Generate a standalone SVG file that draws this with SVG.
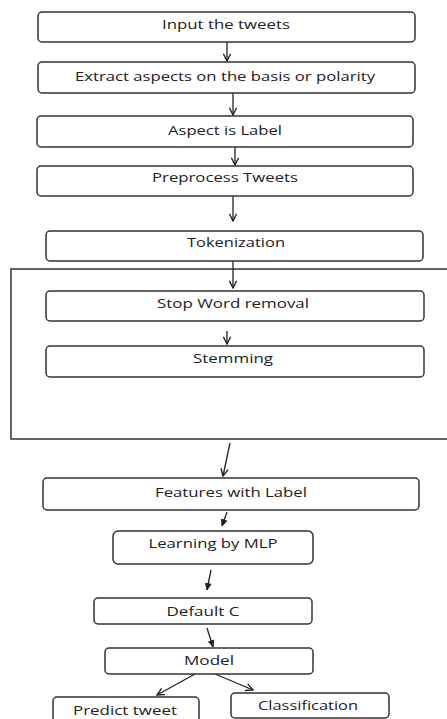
<svg xmlns="http://www.w3.org/2000/svg" width="447" height="719" viewBox="0 0 447 719">
<style>
.box{fill:#fff;stroke:#333;stroke-width:1.5}
.frame{fill:none;stroke:#333;stroke-width:1.5}
.lbl{font-family:"Open Sans","DejaVu Sans",sans-serif;font-size:12.5px;fill:#222;text-anchor:middle}
.ar{fill:none;stroke:#222;stroke-width:1.3}
.open{marker-end:url(#mo)}
.fill{marker-end:url(#mf)}
</style>
<defs>
<marker id="mo" viewBox="0 0 10 10" refX="9" refY="5" markerWidth="9" markerHeight="9" markerUnits="userSpaceOnUse" orient="auto">
<path d="M1,1 L9,5 L1,9" fill="none" stroke="#222" stroke-width="1.5"/>
</marker>
<marker id="mf" viewBox="0 0 10 10" refX="9" refY="5" markerWidth="8" markerHeight="8" markerUnits="userSpaceOnUse" orient="auto">
<path d="M1,1.5 L9,5 L1,8.5 Z" fill="#222" stroke="#222" stroke-width="1"/>
</marker>
</defs>
<rect class="frame" x="11" y="269" width="445" height="170"/>
<g id="connectors">
<line class="ar open" x1="227" y1="42" x2="227" y2="61"/>
<line class="ar open" x1="233" y1="93" x2="233" y2="115"/>
<line class="ar open" x1="235" y1="147" x2="235" y2="165"/>
<line class="ar open" x1="233" y1="196" x2="233" y2="221"/>
<line class="ar open" x1="233" y1="261" x2="233" y2="288"/>
<line class="ar open" x1="227" y1="331" x2="227" y2="344"/>
<line class="ar open" x1="230" y1="443" x2="223" y2="476"/>
<line class="ar fill" x1="227" y1="512" x2="222" y2="526"/>
<line class="ar fill" x1="211" y1="570" x2="207" y2="590"/>
<line class="ar fill" x1="207" y1="628" x2="213" y2="647"/>
<line class="ar open" x1="195" y1="674" x2="157" y2="695"/>
<line class="ar open" x1="215" y1="674" x2="253" y2="690"/>
</g>
<g id="n1"><rect class="box" x="38" y="12" width="377" height="30" rx="4"/><text class="lbl" x="226" y="28.5" textLength="128" lengthAdjust="spacingAndGlyphs">Input the tweets</text></g>
<g id="n2"><rect class="box" x="38" y="62" width="377" height="31" rx="4"/><text class="lbl" x="225" y="80.5" textLength="300" lengthAdjust="spacingAndGlyphs">Extract aspects on the basis or polarity</text></g>
<g id="n3"><rect class="box" x="37" y="116" width="376" height="31" rx="4"/><text class="lbl" x="225" y="134.5" textLength="114" lengthAdjust="spacingAndGlyphs">Aspect is Label</text></g>
<g id="n4"><rect class="box" x="37" y="166" width="376" height="30" rx="4"/><text class="lbl" x="225" y="181.5" textLength="146" lengthAdjust="spacingAndGlyphs">Preprocess Tweets</text></g>
<g id="n5"><rect class="box" x="46" y="231" width="377" height="30" rx="4"/><text class="lbl" x="236" y="246.5" textLength="98" lengthAdjust="spacingAndGlyphs">Tokenization</text></g>
<g id="n6"><rect class="box" x="46" y="291" width="378" height="30" rx="4"/><text class="lbl" x="233" y="307.5" textLength="152" lengthAdjust="spacingAndGlyphs">Stop Word removal</text></g>
<g id="n7"><rect class="box" x="46" y="346" width="378" height="31" rx="4"/><text class="lbl" x="233" y="362.5" textLength="80" lengthAdjust="spacingAndGlyphs">Stemming</text></g>
<g id="n8"><rect class="box" x="43" y="478" width="376" height="32" rx="4"/><text class="lbl" x="231" y="496.5" textLength="152" lengthAdjust="spacingAndGlyphs">Features with Label</text></g>
<g id="n9"><rect class="box" x="113" y="531" width="200" height="33" rx="5"/><text class="lbl" x="213" y="547.5" textLength="129" lengthAdjust="spacingAndGlyphs">Learning by MLP</text></g>
<g id="n10"><rect class="box" x="94" y="598" width="218" height="26" rx="4"/><text class="lbl" x="203" y="615.5" textLength="73" lengthAdjust="spacingAndGlyphs">Default C</text></g>
<g id="n11"><rect class="box" x="105" y="648" width="208" height="26" rx="4"/><text class="lbl" x="209" y="664.5" textLength="50" lengthAdjust="spacingAndGlyphs">Model</text></g>
<g id="n12"><rect class="box" x="53" y="697" width="146" height="30" rx="4"/><text class="lbl" x="125" y="714.5" textLength="104" lengthAdjust="spacingAndGlyphs">Predict tweet</text></g>
<g id="n13"><rect class="box" x="231" y="693" width="158" height="25" rx="4"/><text class="lbl" x="308" y="710" textLength="100" lengthAdjust="spacingAndGlyphs">Classification</text></g>
</svg>
